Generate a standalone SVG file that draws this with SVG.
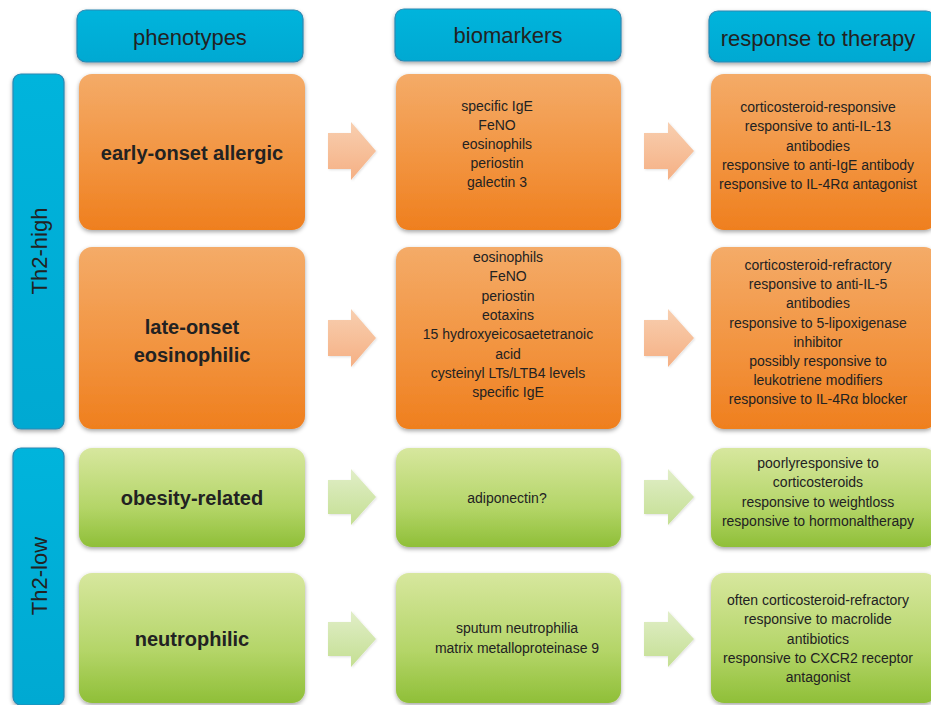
<svg xmlns="http://www.w3.org/2000/svg" width="931" height="705" viewBox="0 0 931 705">
<defs>
<linearGradient id="gOr" x1="0" y1="0" x2="0" y2="1">
<stop offset="0" stop-color="#f4ab68"/><stop offset="0.55" stop-color="#f29440"/><stop offset="1" stop-color="#ef7f1e"/>
</linearGradient>
<linearGradient id="gGr" x1="0" y1="0" x2="0" y2="1">
<stop offset="0" stop-color="#d7e79e"/><stop offset="0.6" stop-color="#b4d568"/><stop offset="1" stop-color="#8fbf38"/>
</linearGradient>
<linearGradient id="gBl" x1="0" y1="0" x2="0" y2="1">
<stop offset="0" stop-color="#06b4dc"/><stop offset="1" stop-color="#00a9d2"/>
</linearGradient>
<linearGradient id="aOr" x1="0" y1="0" x2="0" y2="1">
<stop offset="0" stop-color="#f8cfb0"/><stop offset="1" stop-color="#f5b084"/>
</linearGradient>
<linearGradient id="aGr" x1="0" y1="0" x2="0" y2="1">
<stop offset="0" stop-color="#e1eec8"/><stop offset="1" stop-color="#c4df92"/>
</linearGradient>
<filter id="sh" x="-10%" y="-10%" width="120%" height="130%">
<feDropShadow dx="0" dy="2" stdDeviation="2" flood-color="#000" flood-opacity="0.35"/>
</filter>
<filter id="sha" x="-10%" y="-10%" width="130%" height="130%">
<feDropShadow dx="1" dy="1" stdDeviation="1" flood-color="#000" flood-opacity="0.12"/>
</filter>
</defs>
<style>
.hd{fill:url(#gBl);stroke:#2a88b2;stroke-width:1.2;filter:url(#sh)}
.or{fill:url(#gOr);filter:url(#sh)}
.gr{fill:url(#gGr);filter:url(#sh)}
.ao{fill:url(#aOr);filter:url(#sha)}
.ag{fill:url(#aGr);filter:url(#sha)}
text{font-family:"Liberation Sans",Arial,sans-serif;fill:#222;text-anchor:middle}
.ht{font-size:22px}
.pt{font-size:20px;font-weight:bold}
.bt{font-size:14px}
</style>
<rect width="931" height="705" fill="#ffffff"/>

<g id="hdr-phenotypes"><rect class="hd" x="77" y="10" width="226" height="52" rx="9"/><text class="ht" x="190" y="45">phenotypes</text></g>
<g id="hdr-biomarkers"><rect class="hd" x="395" y="9" width="226" height="52" rx="9"/><text class="ht" x="508" y="43">biomarkers</text></g>
<g id="hdr-response"><rect class="hd" x="709" y="11" width="226" height="51" rx="9"/><text class="ht" x="818" y="46">response to therapy</text></g>

<g id="th2-high"><rect class="hd" x="13" y="74" width="51" height="355" rx="8"/><text class="ht" transform="translate(47 251) rotate(-90)" x="0" y="0">Th2-high</text></g>
<g id="th2-low"><rect class="hd" x="13" y="448" width="51" height="257" rx="8"/><text class="ht" transform="translate(47 576) rotate(-90)" x="0" y="0">Th2-low</text></g>

<g id="p-early"><rect class="or" x="79" y="74" width="226" height="156" rx="13"/><text class="pt" x="192" y="160">early-onset allergic</text></g>
<g id="p-late"><rect class="or" x="79" y="247" width="226" height="182" rx="13"/><text class="pt" x="192" y="334">late-onset</text><text class="pt" x="192" y="362">eosinophilic</text></g>
<g id="p-obesity"><rect class="gr" x="79" y="448" width="226" height="99" rx="13"/><text class="pt" x="192" y="505">obesity-related</text></g>
<g id="p-neutro"><rect class="gr" x="79" y="573" width="226" height="130" rx="13"/><text class="pt" x="192" y="646">neutrophilic</text></g>

<g id="b-early"><rect class="or" x="396" y="74" width="225" height="156" rx="13"/>
<text class="bt" x="497" y="111">specific IgE</text><text class="bt" x="497" y="130">FeNO</text><text class="bt" x="497" y="149">eosinophils</text><text class="bt" x="497" y="168">periostin</text><text class="bt" x="497" y="187">galectin 3</text></g>
<g id="b-late"><rect class="or" x="396" y="247" width="225" height="182" rx="13"/>
<text class="bt" x="508" y="262">eosinophils</text><text class="bt" x="508" y="281.3">FeNO</text><text class="bt" x="508" y="300.6">periostin</text><text class="bt" x="508" y="319.9">eotaxins</text><text class="bt" x="508" y="339.2">15 hydroxyeicosaetetranoic</text><text class="bt" x="508" y="358.5">acid</text><text class="bt" x="508" y="377.8">cysteinyl LTs/LTB4 levels</text><text class="bt" x="508" y="397.1">specific IgE</text></g>
<g id="b-obesity"><rect class="gr" x="396" y="448" width="225" height="99" rx="13"/><text class="bt" x="507" y="503">adiponectin?</text></g>
<g id="b-neutro"><rect class="gr" x="396" y="573" width="225" height="130" rx="13"/><text class="bt" x="517" y="633">sputum neutrophilia</text><text class="bt" x="517" y="653">matrix metalloproteinase 9</text></g>

<g id="r-early"><rect class="or" x="711" y="74" width="226" height="156" rx="13"/>
<text class="bt" x="818" y="112">corticosteroid-responsive</text><text class="bt" x="818" y="131.3">responsive to anti-IL-13</text><text class="bt" x="818" y="150.6">antibodies</text><text class="bt" x="818" y="169.9">responsive to anti-IgE antibody</text><text class="bt" x="818" y="189.2">responsive to IL-4Rα antagonist</text></g>
<g id="r-late"><rect class="or" x="711" y="247" width="226" height="182" rx="13"/>
<text class="bt" x="818" y="270">corticosteroid-refractory</text><text class="bt" x="818" y="289.2">responsive to anti-IL-5</text><text class="bt" x="818" y="308.4">antibodies</text><text class="bt" x="818" y="327.6">responsive to 5-lipoxigenase</text><text class="bt" x="818" y="346.8">inhibitor</text><text class="bt" x="818" y="366">possibly responsive to</text><text class="bt" x="818" y="385.2">leukotriene modifiers</text><text class="bt" x="818" y="404.4">responsive to IL-4Rα blocker</text></g>
<g id="r-obesity"><rect class="gr" x="711" y="448" width="226" height="99" rx="13"/>
<text class="bt" x="818" y="468">poorlyresponsive to</text><text class="bt" x="818" y="487.4">corticosteroids</text><text class="bt" x="818" y="506.8">responsive to weightloss</text><text class="bt" x="818" y="526.2">responsive to hormonaltherapy</text></g>
<g id="r-neutro"><rect class="gr" x="711" y="573" width="226" height="130" rx="13"/>
<text class="bt" x="818" y="605">often corticosteroid-refractory</text><text class="bt" x="818" y="624.3">responsive to macrolide</text><text class="bt" x="818" y="643.6">antibiotics</text><text class="bt" x="818" y="662.9">responsive to CXCR2 receptor</text><text class="bt" x="818" y="682.2">antagonist</text></g>

<g id="connectors">
<polygon class="ao" points="328,133 351,133 351,122 376,151 351,180 351,169 328,169"/>
<polygon class="ao" points="644,133 668,133 668,122 694,151 668,180 668,169 644,169"/>
<polygon class="ao" points="328,320 351,320 351,309 376,338 351,367 351,356 328,356"/>
<polygon class="ao" points="644,320 668,320 668,309 694,338 668,367 668,356 644,356"/>
<polygon class="ag" points="328,480 351,480 351,469 376,497 351,525 351,514 328,514"/>
<polygon class="ag" points="644,480 668,480 668,469 694,497 668,525 668,514 644,514"/>
<polygon class="ag" points="328,622 351,622 351,611 376,639 351,667 351,656 328,656"/>
<polygon class="ag" points="644,622 668,622 668,611 694,639 668,667 668,656 644,656"/>
</g>
</svg>
